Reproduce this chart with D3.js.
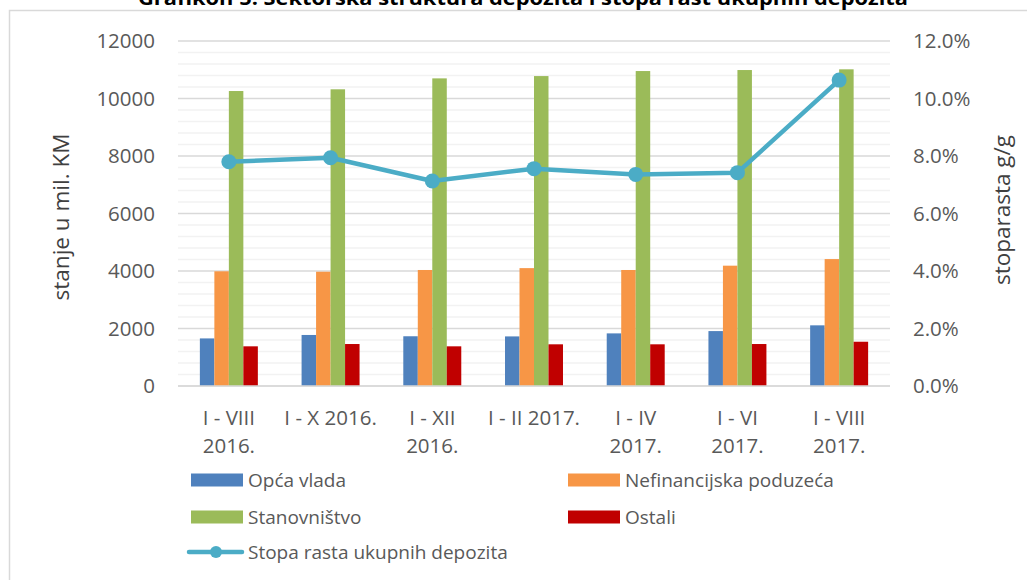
<!DOCTYPE html>
<html>
<head>
<meta charset="utf-8">
<script src="https://cdn.jsdelivr.net/npm/d3@7"></script>
<style>
  body { margin: 0; background: #fff; }
  svg { display: block; }
  text { font-family: "Open Sans", sans-serif; }
</style>
</head>
<body>
<div id="chart"></div>
<script>
// categories and values
let categories = ["I - VIII 2016.", "I - X 2016.", "I - XII 2016.", "I - II 2017.", "I - IV 2017.", "I - VI 2017.", "I - VIII 2017."];
let tickLines = [["I - VIII", "2016."], ["I - X 2016."], ["I - XII", "2016."], ["I - II 2017."], ["I - IV", "2017."], ["I - VI", "2017."], ["I - VIII", "2017."]];

let opcaVlada = [1655, 1775, 1730, 1725, 1830, 1910, 2110];
let nefinancijska = [3990, 3975, 4035, 4100, 4035, 4185, 4415];
let stanovnistvo = [10260, 10320, 10700, 10780, 10955, 10990, 11015];
let ostali = [1380, 1460, 1380, 1450, 1450, 1460, 1540];
let stopaRasta = [7.80, 7.94, 7.13, 7.56, 7.36, 7.42, 10.64];

let seriesNames = ["Opća vlada", "Nefinancijska poduzeća", "Stanovništvo", "Ostali"];
let seriesColors = ["#4f81bd", "#f79646", "#9bbb59", "#c00000"];
let lineName = "Stopa rasta ukupnih depozita";
let lineColor = "#4bacc6";

let leftTicks = [0, 2000, 4000, 6000, 8000, 10000, 12000];
let rightTicks = [0, 2, 4, 6, 8, 10, 12];

let barSeries = [opcaVlada, nefinancijska, stanovnistvo, ostali];

let W = 1027, H = 580;
let plot = { left: 178, right: 890, top: 41, bottom: 386 };

let svg = d3.select("#chart").append("svg")
    .attr("width", W).attr("height", H);

// chart frame (right and bottom edges lie outside the picture)
svg.append("rect")
    .attr("x", 9.5).attr("y", 10.5)
    .attr("width", 1040).attr("height", 600)
    .attr("fill", "none")
    .attr("stroke", "#d9d9d9")
    .attr("stroke-width", 1.5);

// title, cut off at the top like in the picture
svg.append("text")
    .attr("x", 523).attr("y", 4.5)
    .attr("text-anchor", "middle")
    .attr("font-size", 20)
    .attr("font-weight", "bold")
    .attr("fill", "#000")
    .attr("textLength", 770)
    .attr("lengthAdjust", "spacingAndGlyphs")
    .text("Grafikon 5: Sektorska struktura depozita i stopa rast ukupnih depozita");

let x0 = d3.scaleBand().domain(categories).range([plot.left, plot.right]).padding(0);
let groupW = x0.bandwidth() * 0.57;
let x1 = d3.scaleBand().domain(d3.range(barSeries.length))
    .range([(x0.bandwidth() - groupW) / 2, (x0.bandwidth() + groupW) / 2]);

let yL = d3.scaleLinear().domain([0, 12000]).range([plot.bottom, plot.top]);
let yR = d3.scaleLinear().domain([0, 12]).range([plot.bottom, plot.top]);

// minor gridlines
let minor = d3.range(0, 12001, 400).filter(v => v % 2000 !== 0);
svg.append("g").selectAll("line")
    .data(minor)
    .enter()
    .append("line")
    .attr("x1", plot.left).attr("x2", plot.right)
    .attr("y1", d => yL(d)).attr("y2", d => yL(d))
    .attr("stroke", "#f2f2f2")
    .attr("stroke-width", 1.5);

// major gridlines
svg.append("g").selectAll("line")
    .data(leftTicks)
    .enter()
    .append("line")
    .attr("x1", plot.left).attr("x2", plot.right)
    .attr("y1", d => yL(d)).attr("y2", d => yL(d))
    .attr("stroke", "#d9d9d9")
    .attr("stroke-width", 1.5);

// left axis
let axL = svg.append("g")
    .attr("transform", `translate(${plot.left - 23},0)`)
    .call(d3.axisLeft(yL).tickValues(leftTicks).tickSize(0).tickPadding(0).tickFormat(d3.format("d")));
axL.select(".domain").remove();
axL.selectAll("text")
    .attr("font-family", "Open Sans, sans-serif")
    .attr("font-size", 20.5)
    .attr("fill", "#595959");

// right axis
let axR = svg.append("g")
    .attr("transform", `translate(${plot.right + 23},0)`)
    .call(d3.axisRight(yR).tickValues(rightTicks).tickSize(0).tickPadding(0).tickFormat(d => d.toFixed(1) + "%"));
axR.select(".domain").remove();
axR.selectAll("text")
    .attr("font-family", "Open Sans, sans-serif")
    .attr("font-size", 20.5)
    .attr("fill", "#595959");

// axis titles
svg.append("text")
    .attr("transform", "translate(69,217) rotate(-90)")
    .attr("text-anchor", "middle")
    .attr("font-size", 22.5)
    .attr("fill", "#404040")
    .text("stanje u mil. KM");

svg.append("text")
    .attr("transform", "translate(1010,210) rotate(-90)")
    .attr("text-anchor", "middle")
    .attr("font-size", 22.5)
    .attr("fill", "#404040")
    .text("stoparasta g/g");

// bars
let groups = svg.append("g").selectAll("g")
    .data(categories)
    .enter()
    .append("g")
    .attr("transform", d => `translate(${x0(d)},0)`);

groups.selectAll("rect")
    .data((d, i) => barSeries.map((s, k) => ({ k: k, v: s[i] })))
    .enter()
    .append("rect")
    .attr("x", d => x1(d.k))
    .attr("width", x1.bandwidth())
    .attr("y", d => yL(d.v))
    .attr("height", d => yL(0) - yL(d.v))
    .attr("fill", d => seriesColors[d.k]);

// x axis line
svg.append("line")
    .attr("x1", plot.left).attr("x2", plot.right)
    .attr("y1", plot.bottom).attr("y2", plot.bottom)
    .attr("stroke", "#d9d9d9")
    .attr("stroke-width", 1.5);

// category labels
let xAx = svg.append("g")
    .attr("transform", `translate(0,${plot.bottom})`)
    .call(d3.axisBottom(x0).tickSize(0).tickFormat(""));
xAx.select(".domain").remove();
xAx.selectAll(".tick").each(function(d, i) {
    let t = d3.select(this).append("text")
        .attr("text-anchor", "middle")
        .attr("font-family", "Open Sans, sans-serif")
        .attr("font-size", 20.5)
        .attr("fill", "#595959");
    tickLines[i].forEach((s, j) => {
        t.append("tspan").attr("x", 0).attr("y", 39 + j * 28).text(s);
    });
});

// growth line
let pts = categories.map((c, i) => [x0(c) + x0.bandwidth() / 2, yR(stopaRasta[i])]);
svg.append("path")
    .datum(pts)
    .attr("d", d3.line())
    .attr("fill", "none")
    .attr("stroke", lineColor)
    .attr("stroke-width", 4.5)
    .attr("stroke-linejoin", "round");

svg.append("g").selectAll("circle")
    .data(pts)
    .enter()
    .append("circle")
    .attr("cx", d => d[0])
    .attr("cy", d => d[1])
    .attr("r", 7.5)
    .attr("fill", lineColor);

// legend
let legendItems = [
    { name: seriesNames[0], color: seriesColors[0], x: 191, y: 480 },
    { name: seriesNames[1], color: seriesColors[1], x: 568, y: 480 },
    { name: seriesNames[2], color: seriesColors[2], x: 191, y: 517 },
    { name: seriesNames[3], color: seriesColors[3], x: 568, y: 517 }
];

let leg = svg.append("g").selectAll("g")
    .data(legendItems)
    .enter()
    .append("g")
    .attr("transform", d => `translate(${d.x},${d.y})`);

leg.append("rect")
    .attr("x", 0).attr("y", -6.5)
    .attr("width", 52).attr("height", 13)
    .attr("fill", d => d.color);

leg.append("text")
    .attr("x", 57).attr("y", 7)
    .attr("font-size", 19)
    .attr("fill", "#595959")
    .text(d => d.name);

let legLine = svg.append("g").attr("transform", "translate(189,552)");
legLine.append("line")
    .attr("x1", 0).attr("x2", 53)
    .attr("stroke", lineColor)
    .attr("stroke-width", 4.5)
    .attr("stroke-linecap", "round");
legLine.append("circle")
    .attr("cx", 27).attr("cy", 0).attr("r", 6)
    .attr("fill", lineColor);
legLine.append("text")
    .attr("x", 59).attr("y", 7)
    .attr("font-size", 19)
    .attr("fill", "#595959")
    .text(lineName);
</script>
</body>
</html>
